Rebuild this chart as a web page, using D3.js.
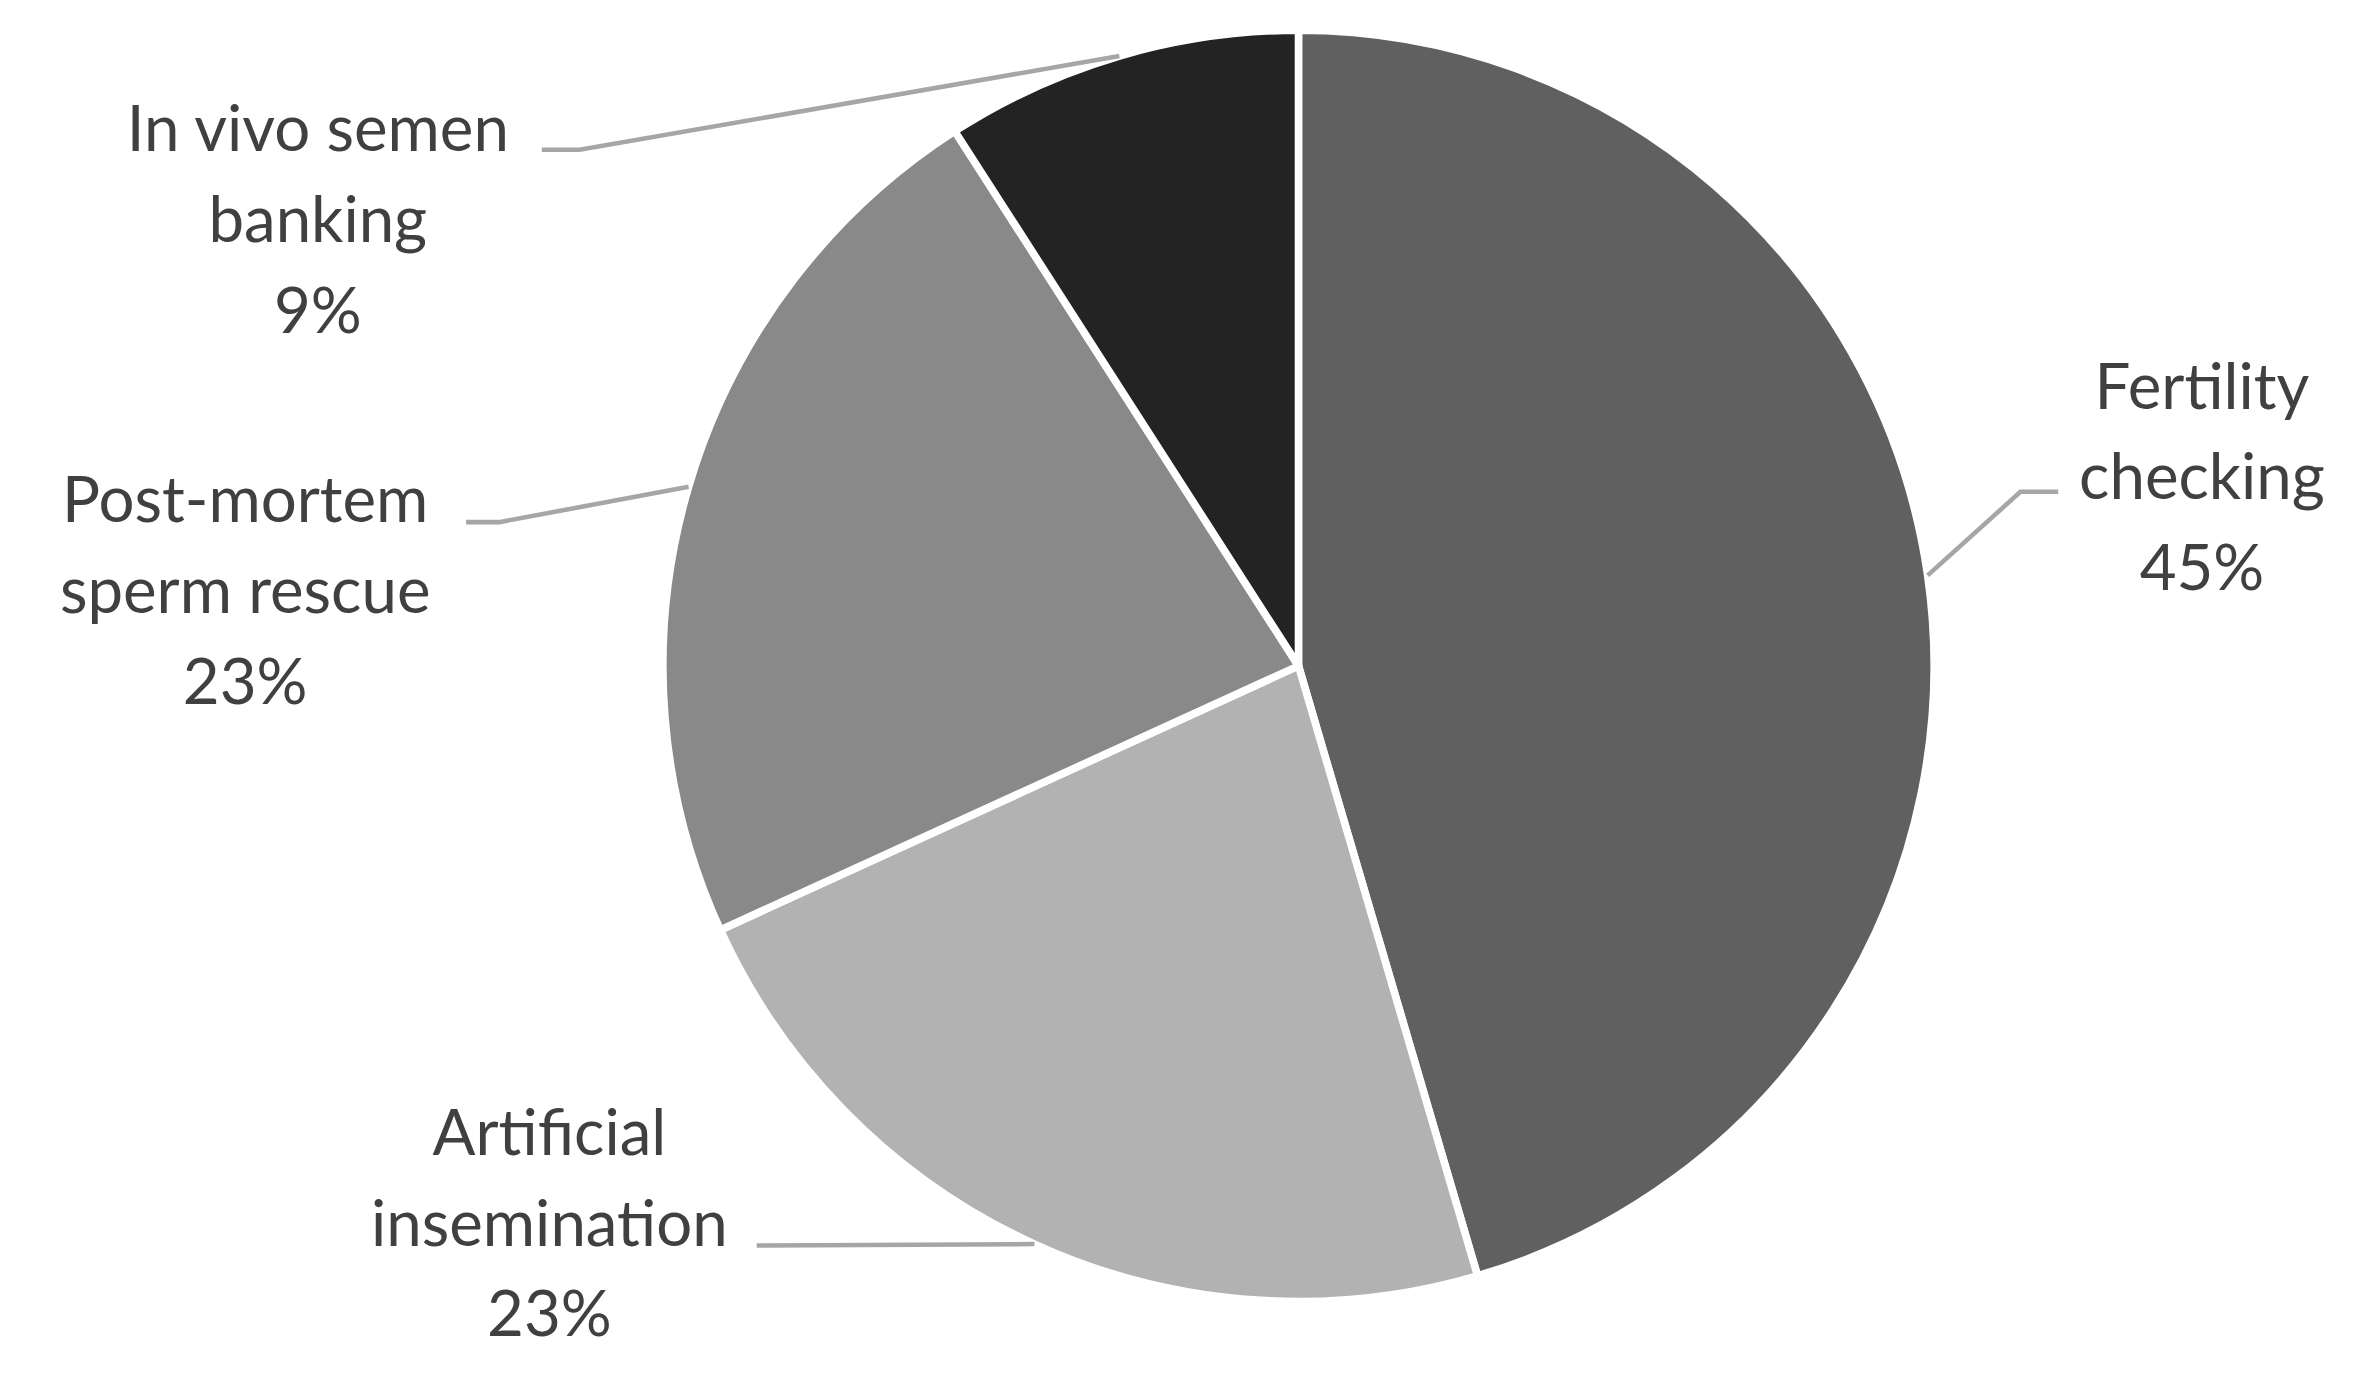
<!DOCTYPE html>
<html lang="en">
<head>
<meta charset="utf-8">
<title>Pie</title>
<script src="https://cdn.jsdelivr.net/npm/d3@7"></script>
</head>
<body style="margin:0;background:#fff">
<script>
var names = ["Fertility checking", "Artificial insemination", "Post-mortem sperm rescue", "In vivo semen banking"];
var values = [10, 5, 5, 2];
var pctLabels = ["45%", "23%", "23%", "9%"];
var labelLines = [["Fertility", "checking", "45%"], ["Artificial", "insemination", "23%"],
                  ["Post-mortem", "sperm rescue", "23%"], ["In vivo semen", "banking", "9%"]];
var colours = ["#606060", "#b2b2b2", "#898989", "#232323"];

var W = 2373, H = 1383, k = W / 1568;
var cx = 858, cy = 440, r = 420;
// label centre and elbow for each slice (in 1568-wide units)
var labelPos = [[1455, 255], [363, 748], [162, 330], [210, 85]];
var elbows = [[[1335, 325], [1360, 325]], [[500, 823]], [[330, 345], [308, 345]], [[383, 99], [358, 99]]];

var svg = d3.select("body").append("svg").attr("width", W).attr("height", H);
var g = svg.append("g").attr("transform", "scale(" + k + ")");

var pie = d3.pie().sort(null).value(function(d){ return d; });
var arcs = pie(values);
var arc = d3.arc().innerRadius(0).outerRadius(r);

var pg = g.append("g").attr("transform", "translate(" + cx + "," + cy + ")");
pg.selectAll("path").data(arcs).enter().append("path")
    .attr("d", arc)
    .attr("fill", function(d, i){ return colours[i]; })
    .attr("stroke", "#fff").attr("stroke-width", 5).attr("stroke-linejoin", "round");

arcs.forEach(function(a, i){
    var m = (a.startAngle + a.endAngle) / 2;
    var pts = [[cx + r * Math.sin(m), cy - r * Math.cos(m)]].concat(elbows[i]);
    g.append("path").attr("d", d3.line()(pts))
        .attr("fill", "none").attr("stroke", "#a6a6a6").attr("stroke-width", 3);
    var t = g.append("text").attr("text-anchor", "middle")
        .attr("font-family", "Lato, 'Open Sans', sans-serif").attr("font-size", 42)
        .attr("fill", "#404040");
    labelLines[i].forEach(function(s, j){
        t.append("tspan").attr("x", labelPos[i][0]).attr("y", labelPos[i][1] + j * 60 + 15).text(s);
    });
});
</script>
</body>
</html>
